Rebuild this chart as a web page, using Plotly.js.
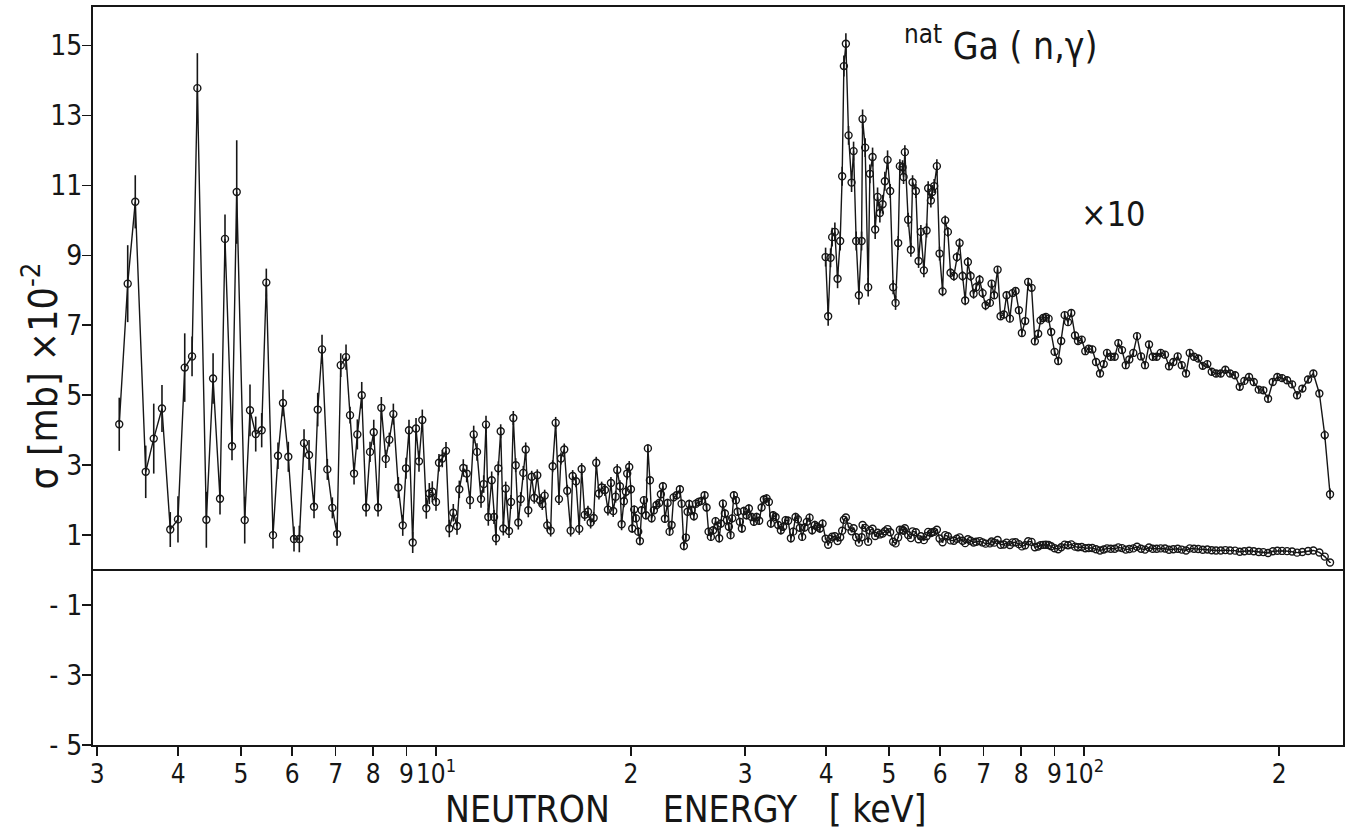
<!DOCTYPE html>
<html>
<head>
<meta charset="utf-8">
<script src="https://cdn.plot.ly/plotly-3.0.1.min.js"></script>
<style>html,body{margin:0;padding:0;background:#fff;}#chart{width:1354px;height:833px;}</style>
</head>
<body>
<div id="chart"></div>
<script>
// ---- data: neutron energy [keV] and cross section sigma [mb x 10^-2] ----
const lowEnergy = [
3.245,3.344,3.435,3.565,3.668,3.777,3.890,3.998,4.095,4.203,
4.283,4.422,4.529,4.642,4.725,4.844,4.926,5.068,5.164,5.270,
5.383,5.472,5.604,5.704,5.806,5.917,6.038,6.153,6.257,6.369,
6.483,6.569,6.670,6.797,6.919,7.036,7.129,7.264,7.368,7.474,
7.562,7.681,7.800,7.911,8.016,8.139,8.235,8.365,8.472,
8.594,8.748,8.886,8.990,9.085,9.206,9.315,9.414,9.525,9.661,9.765,9.869,
10.000,10.107,10.226,10.362,10.484,10.634,10.775,10.864,11.019,11.153,11.285,11.434,11.569,11.735,11.848,11.945,12.043,12.189,
12.289,12.377,12.478,12.585,12.702,12.811,12.962,13.055,13.162,13.274,13.398,13.512,13.637,13.754,13.882,
14.050,14.180,14.332,14.470,14.589,14.714,14.850,15.031,15.137,15.300,15.480,15.590,15.774,15.943,16.137,16.252,16.444,16.637,16.780,16.960,17.160,17.325,17.511,17.673,17.843,18.015,18.227,18.422,18.620,18.772,18.933,19.041,19.224,19.340,19.499,19.638,19.729,19.870,
19.990,20.082,20.225,20.348,20.515,20.639,20.764,20.934,21.083,21.233,21.385,21.514,21.690,21.899,22.102,22.236,22.395,22.555,22.772,22.935,
23.098,23.263,23.512,23.789,23.934,24.130,24.302,24.450,24.589,24.800,25.003,25.181,25.424,25.696,25.971,26.156,26.343,26.559,26.777,27.006,
27.199,27.354,27.519,27.716,27.913,28.113,28.313,28.485,28.647,28.821,29.026,29.202,29.442,29.651,29.863,30.151,30.398,30.691,30.943,31.241,
31.531,31.801,32.061,32.371,32.636,32.869,33.138,33.422,33.732,34.058,34.337,34.631,34.952,35.290,35.580,35.884,36.178,36.437,36.736,37.050,
37.354,37.714,38.064,38.431,38.746,39.120,39.497
];
const lowSigma = [
4.17,8.19,10.53,2.81,3.76,4.62,1.16,1.45,5.79,6.11,
13.78,1.44,5.48,2.04,9.47,3.54,10.81,1.43,4.57,3.89,
4.0,8.22,1.0,3.27,4.78,3.24,0.89,0.89,3.63,3.29,
1.81,4.59,6.31,2.88,1.78,1.03,5.86,6.09,4.43,2.76,
3.88,5.0,1.79,3.38,3.94,1.79,4.64,3.18,3.73,
4.46,2.36,1.28,2.91,4.0,0.79,4.05,3.11,4.29,1.77,2.19,2.24,
1.95,3.07,3.19,3.41,1.19,1.64,1.26,2.31,2.92,2.76,2.0,3.88,3.38,2.03,2.46,4.16,1.52,2.57,
1.52,0.91,2.91,3.97,1.19,2.33,1.12,1.95,4.35,3.0,1.36,2.03,2.78,3.45,1.71,
2.67,2.07,2.71,2.0,1.89,2.13,1.28,1.13,2.97,4.21,2.03,3.19,3.45,2.27,1.13,2.69,2.54,1.18,2.89,1.58,1.67,1.36,1.49,3.07,2.19,2.36,2.29,1.73,2.49,1.69,2.1,2.86,2.4,1.31,1.97,2.24,2.76,2.95,
2.31,1.19,1.73,1.48,1.10,0.83,1.71,2.0,1.57,3.48,2.57,1.48,1.71,1.86,1.92,2.17,2.4,1.47,1.92,1.10,
1.29,2.08,2.14,2.31,1.9,0.69,0.93,1.67,1.89,1.71,1.54,1.9,1.95,1.98,2.14,1.79,1.10,0.95,1.14,1.4,
1.26,0.91,1.33,1.9,1.62,1.43,1.24,1.0,1.48,2.14,2.0,1.67,1.38,1.19,1.69,1.57,1.76,1.52,1.38,1.52,
1.41,1.79,2.02,2.05,1.95,1.33,1.57,1.52,1.29,1.14,1.24,1.43,1.41,0.91,1.10,1.52,1.45,1.21,0.95,1.22,
1.38,1.5,1.14,1.29,1.24,1.19,1.33
];
const lowErr = [
0.76,1.1,0.76,0.75,1.0,0.67,0.5,0.66,0.98,0.57,
1.0,0.8,0.72,0.45,0.7,0.4,1.48,0.67,0.74,0.5,
0.49,0.4,0.38,0.38,0.38,0.43,0.36,0.38,0.4,0.43,
0.33,0.48,0.42,0.3,0.3,0.33,0.34,0.36,0.24,0.31,
0.43,0.38,0.26,0.29,0.36,0.26,0.31,0.26,0.2,
0.3,0.3,0.3,0.3,0.3,0.3,0.3,0.3,0.3,0.3,0.3,0.3,
0.25,0.25,0.25,0.25,0.25,0.25,0.25,0.25,0.25,0.25,0.25,0.25,0.25,0.25,0.25,0.25,0.25,0.25,
0.2,0.2,0.2,0.2,0.2,0.2,0.2,0.2,0.2,0.2,0.2,0.2,0.2,0.2,0.2,
0.17,0.17,0.17,0.17,0.17,0.17,0.17,0.17,0.17,0.17,0.17,0.17,0.17,0.17,0.17,0.17,0.17,0.17,0.17,0.17,0.17,0.17,0.17,0.17,0.17,0.17,0.17,0.17,0.17,0.17,0.17,0.17,0.17,0.17,0.17,0.17,0.17,0.17,
0.12,0.12,0.12,0.12,0.12,0.12,0.12,0.12,0.12,0.12,0.12,0.12,0.12,0.12,0.12,0.12,0.12,0.12,0.12,0.12,
0.12,0.12,0.12,0.12,0.12,0.12,0.12,0.12,0.12,0.12,0.12,0.12,0.12,0.12,0.12,0.12,0.12,0.12,0.12,0.12,
0.12,0.12,0.12,0.12,0.12,0.12,0.12,0.12,0.12,0.12,0.12,0.12,0.12,0.12,0.12,0.12,0.12,0.12,0.12,0.12,
0.12,0.12,0.12,0.12,0.12,0.12,0.12,0.12,0.12,0.12,0.12,0.12,0.12,0.12,0.12,0.12,0.12,0.12,0.12,0.12,
0.12,0.12,0.12,0.12,0.12,0.12,0.12
];
// upper region, drawn magnified x10
const highEnergy = [
39.922,40.291,40.636,40.867,41.261,41.659,42.046,42.346,42.603,42.907,
43.320,43.784,44.097,44.506,44.935,45.368,45.530,45.951,46.444,46.725,
47.175,47.613,48.021,48.415,48.882,49.283,49.758,50.220,50.758,51.193,
51.668,51.981,52.482,52.669,52.913,53.537,54.053,54.380,55.022,55.553,
56.009,56.609,57.155,57.481,58.035,58.304,58.719,59.285,59.857,60.499,
61.061,61.649,62.243,62.977,63.652,64.266,64.955,65.558,66.190,66.828,
67.544,68.173,69.000,69.740,70.488,
71.575,72.008,72.675,73.558,74.347,75.223,75.948,76.845,77.586,78.418,
79.342,80.193,81.138,82.007,83.003,83.981,84.972,85.700,86.496,87.331,
88.172,88.992,90.072,91.232,92.210,93.355,94.473,95.587,96.852,97.891,
99.186,100.46,101.68,102.99,104.36,105.85,107.26,108.52,109.96,111.53,
112.97,114.46,115.98,117.47,119.15,120.73,122.46,124.21,125.99,127.65,
129.48,131.33,133.35,135.26,137.35,139.51,141.51,143.69,145.59,147.83,
150.11,152.48,154.99,157.44,159.86,162.56,165.24,168.02,171.03,173.91,
176.78,179.76,182.79,186.07,189.13,192.32,195.56,198.78,202.13,205.75,
209.44,213.19,217.25,221.70,225.91,230.78,235.24,239.71
];
const highSigmaX10 = [
8.95,7.26,8.93,9.52,9.67,8.33,9.41,11.26,14.41,15.05,
12.43,11.08,11.98,9.41,7.86,9.41,12.9,12.08,8.09,11.33,
11.81,9.74,10.67,10.21,10.46,11.12,11.73,10.84,8.09,7.64,
9.35,11.55,11.52,11.24,11.95,10.02,9.16,11.09,10.84,8.84,
9.67,8.57,9.71,10.92,10.57,10.81,10.98,11.55,9.05,7.97,
10.0,9.67,8.5,8.41,8.95,9.35,8.41,7.71,8.81,8.41,
7.9,8.09,8.3,7.92,7.57,
7.64,8.19,7.86,8.59,7.26,7.31,7.86,7.19,7.92,7.98,
7.43,6.78,7.12,8.24,8.07,6.54,6.76,7.14,7.21,7.24,
7.19,6.81,6.24,5.98,6.55,7.29,7.09,7.35,6.71,6.55,
6.59,6.26,6.33,6.31,5.95,5.62,5.89,6.21,6.1,6.1,
6.49,6.29,5.86,6.02,6.21,6.69,6.11,5.86,6.45,6.1,
6.1,6.21,6.16,5.83,5.95,6.11,5.86,5.62,6.21,6.1,
6.05,5.84,5.89,5.67,5.62,5.62,5.73,5.62,5.57,5.24,
5.41,5.52,5.38,5.16,5.14,4.9,5.38,5.52,5.49,5.43,
5.31,5.0,5.19,5.45,5.62,5.05,3.86,2.17
];
const highErrX10 = [
0.27,0.27,0.27,0.27,0.27,0.27,0.27,0.27,0.3,0.3,
0.27,0.27,0.27,0.27,0.27,0.27,0.27,0.27,0.27,0.27,
0.27,0.27,0.27,0.27,0.27,0.27,0.27,0.2,0.2,0.2,
0.2,0.2,0.2,0.2,0.2,0.2,0.2,0.2,0.2,0.2,
0.2,0.2,0.2,0.2,0.2,0.2,0.2,0.2,0.2,0.14,
0.14,0.14,0.14,0.14,0.14,0.14,0.14,0.14,0.14,0.14,
0.14,0.14,0.14,0.14,0.14,
0.1,0.1,0.1,0.1,0.1,0.1,0.1,0.1,0.1,0.1,
0.1,0.1,0.1,0.1,0.1,0.1,0.1,0.1,0.1,0.1,
0.1,0.1,0.1,0.1,0.1,0.1,0.1,0.1,0.1,0.1,
0.1,0.1,0.1,0.1,0.1,0.1,0.1,0.1,0.1,0.1,
0.1,0.1,0.1,0.1,0.1,0.1,0.1,0.1,0.1,0.1,
0.1,0.1,0.1,0.1,0.1,0.1,0.1,0.1,0.1,0.1,
0.1,0.1,0.1,0.1,0.1,0.1,0.1,0.1,0.1,0.1,
0.1,0.1,0.1,0.1,0.1,0.1,0.1,0.1,0.1,0.1,
0.1,0.1,0.1,0.1,0.1,0.1,0.14,0.16
];
const magnification = 10;
const xTickVals = [3,4,5,6,7,8,9,10,20,30,40,50,60,70,80,90,100,200];
const xTickText = ['3','4','5','6','7','8','9','10<sup>1</sup>','2','3','4','5','6','7','8','9','10<sup>2</sup>','2'];
const yTickVals = [15,13,11,9,7,5,3,1,-1,-3,-5];
const yTickText = ['15','13','11','9','7','5','3','1','- 1','- 3','- 5'];

const FONT = 'DejaVu Sans Condensed, Liberation Sans Narrow, Arial Narrow, sans-serif';
const INK = '#161616';

const fullX = lowEnergy.concat(highEnergy);
const fullY = lowSigma.concat(highSigmaX10.map(v => v / magnification));
const fullErr = lowErr.concat(highErrX10.map(e => e / magnification));

const common = {
  type: 'scatter', mode: 'lines+markers', showlegend: false, hoverinfo: 'x+y',
  line: {color: INK, width: 1.4},
  marker: {symbol: 'circle-open', size: 7, color: INK, line: {color: INK, width: 1.4}}
};

const traces = [
  Object.assign({}, common, {
    name: 'σ', x: fullX, y: fullY,
    error_y: {type: 'data', array: fullErr, visible: true, thickness: 1.6, width: 0, color: INK}
  }),
  Object.assign({}, common, {
    name: 'σ ×10', x: highEnergy, y: highSigmaX10,
    error_y: {type: 'data', array: highErrX10, visible: true, thickness: 1.6, width: 0, color: INK}
  })
];

const layout = {
  width: 1354, height: 833,
  margin: {l: 93, r: 11, t: 7, b: 88},
  paper_bgcolor: '#ffffff', plot_bgcolor: '#ffffff',
  font: {family: FONT, color: INK, size: 26},
  xaxis: {
    type: 'log', range: [Math.log10(2.956), Math.log10(251)],
    tickmode: 'array', tickvals: xTickVals, ticktext: xTickText,
    ticks: 'outside', ticklen: 9, tickwidth: 1.6, tickcolor: INK,
    tickangle: 0, ticklabelposition: 'outside', ticklabelstandoff: -4,
    showline: true, linecolor: INK, linewidth: 2, mirror: true,
    showgrid: false, zeroline: false,
    tickfont: {family: FONT, size: 26, color: INK}
  },
  yaxis: {
    range: [-5, 16.1],
    tickmode: 'array', tickvals: yTickVals, ticktext: yTickText,
    ticks: 'outside', ticklen: 9, tickwidth: 1.6, tickcolor: INK,
    ticklabelposition: 'outside', ticklabelstandoff: -6,
    showline: true, linecolor: INK, linewidth: 2, mirror: true,
    showgrid: false, zeroline: true, zerolinecolor: INK, zerolinewidth: 1.6,
    tickfont: {family: FONT, size: 28, color: INK}
  },
  annotations: [
    {xref: 'paper', yref: 'paper', x: 0.4744, y: -0.088, xanchor: 'center', yanchor: 'middle', showarrow: false,
     text: 'NEUTRON\u00a0\u00a0\u00a0\u00a0\u00a0ENERGY\u00a0\u00a0\u00a0[\u00a0keV]', font: {family: FONT, size: 37, color: INK}},
    {xref: 'paper', yref: 'paper', x: -0.042, y: 0.5, xanchor: 'center', yanchor: 'middle',
     textangle: -90, showarrow: false,
     text: 'σ [mb] ×10<sup>-2</sup>', font: {family: FONT, size: 39, color: INK}},
    {xref: 'paper', yref: 'paper', x: 0.647, y: 0.95, xanchor: 'left', yanchor: 'middle', showarrow: false,
     text: '<sup>nat</sup> Ga ( n,γ)', font: {family: FONT, size: 37, color: INK}},
    {xref: 'paper', yref: 'paper', x: 0.789, y: 0.72, xanchor: 'left', yanchor: 'middle', showarrow: false,
     text: '×10', font: {family: FONT, size: 34, color: INK}}
  ]
};

Plotly.newPlot('chart', traces, layout, {staticPlot: true, displayModeBar: false});
</script>
</body>
</html>
